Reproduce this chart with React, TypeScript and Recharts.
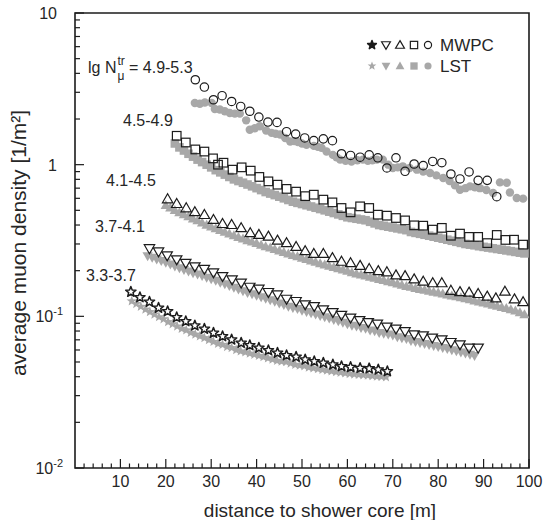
import React from 'react';
import { ScatterChart, Scatter, XAxis, YAxis, ReferenceArea } from 'recharts';

const INK = '#1c1c1c';
const GRAY = '#a8a8a8';
const TEXT = '#262626';

// lg N = 4.9-5.3 (circles)
const mwpcCircleX = [26.5, 28.5, 30.5, 32.4, 34.5, 36.5, 38.5, 40.5, 42.5, 44.5, 46.6, 48.6, 50.6, 52.6, 54.7, 56.7, 58.7, 60.7, 62.8, 64.8, 66.7, 68.7, 70.7, 72.7, 74.7, 76.7, 78.8, 80.8, 82.8, 84.8, 86.8, 88.8, 90.8, 92.9];
const mwpcCircleY = [3.63, 3.25, 2.68, 2.85, 2.61, 2.42, 2.25, 2.06, 1.91, 1.9, 1.65, 1.59, 1.5, 1.44, 1.48, 1.44, 1.18, 1.15, 1.12, 1.16, 1.11, 0.951, 1.11, 0.904, 1.01, 0.985, 1.05, 1.03, 0.868, 0.805, 0.895, 0.788, 0.788, 0.615];
const lstCircleX = [26.4, 27.5, 28.6, 30.1, 30.8, 31.9, 33.0, 34.1, 35.2, 36.3, 37.7, 38.5, 39.6, 40.7, 42.1, 43.3, 44.2, 45.2, 46.3, 47.4, 48.3, 49.1, 50.0, 51.0, 52.6, 53.5, 54.3, 55.4, 56.8, 57.6, 58.4, 59.6, 60.9, 62.2, 63.4, 64.5, 65.5, 66.5, 67.8, 69.0, 70.0, 71.1, 72.2, 73.7, 75.3, 76.7, 78.2, 79.6, 81.1, 82.5, 83.7, 84.8, 86.0, 87.0, 88.1, 89.2, 90.6, 92.1, 93.6, 95.1, 95.8, 97.3, 98.7];
const lstCircleY = [2.55, 2.52, 2.57, 2.55, 2.33, 2.31, 2.25, 2.19, 2.17, 2.17, 1.96, 1.7, 1.74, 1.79, 1.68, 1.62, 1.6, 1.58, 1.5, 1.42, 1.43, 1.41, 1.38, 1.35, 1.33, 1.31, 1.29, 1.22, 1.16, 1.12, 1.08, 1.06, 1.05, 1.07, 1.08, 1.06, 1.07, 1.08, 1.08, 1.0, 0.95, 0.96, 0.975, 0.95, 0.927, 0.9, 0.881, 0.85, 0.817, 0.78, 0.73, 0.684, 0.7, 0.719, 0.71, 0.7, 0.68, 0.65, 0.764, 0.76, 0.656, 0.603, 0.597];

// lg N = 4.5-4.9 (squares)
const mwpcSquareX = [22.4, 24.4, 26.5, 28.5, 30.4, 31.5, 32.7, 34.7, 36.7, 38.7, 40.6, 42.6, 44.6, 46.6, 48.7, 50.7, 52.6, 54.7, 56.7, 58.7, 60.7, 62.8, 64.8, 66.7, 68.7, 70.7, 72.7, 74.7, 76.7, 78.8, 80.8, 82.8, 84.8, 86.8, 88.8, 90.8, 92.9, 94.8, 96.7, 98.7];
const mwpcSquareY = [1.55, 1.4, 1.26, 1.22, 1.1, 1.0, 1.03, 0.927, 0.96, 0.913, 0.83, 0.776, 0.738, 0.692, 0.664, 0.62, 0.634, 0.588, 0.564, 0.518, 0.485, 0.531, 0.518, 0.468, 0.461, 0.445, 0.429, 0.398, 0.396, 0.373, 0.383, 0.34, 0.351, 0.334, 0.334, 0.304, 0.344, 0.319, 0.32, 0.297];
const lstSquareX = [22, 23, 24, 25, 26, 27, 28, 29, 30, 31, 32, 33, 34, 35, 36, 37, 38, 39, 40, 41, 42, 43, 44, 45, 46, 47, 48, 49, 50, 51, 52, 53, 54, 55, 56, 57, 58, 59, 60, 61, 62, 63, 64, 65, 66, 67, 68, 69, 70, 71, 72, 73, 74, 75, 76, 77, 78, 79, 80, 81, 82, 83, 84, 85, 86, 87, 88, 89, 90, 91, 92, 93, 94, 95, 96, 97, 98, 99];
const lstSquareY = [1.38, 1.3, 1.24, 1.18, 1.13, 1.08, 1.04, 1.0, 0.96, 0.92, 0.89, 0.86, 0.83, 0.8, 0.78, 0.76, 0.74, 0.72, 0.7, 0.68, 0.66, 0.645, 0.63, 0.615, 0.6, 0.585, 0.57, 0.56, 0.55, 0.54, 0.53, 0.52, 0.51, 0.5, 0.49, 0.48, 0.47, 0.46, 0.45, 0.445, 0.44, 0.435, 0.43, 0.42, 0.41, 0.4, 0.395, 0.39, 0.385, 0.38, 0.375, 0.37, 0.36, 0.355, 0.35, 0.345, 0.34, 0.335, 0.33, 0.325, 0.32, 0.315, 0.31, 0.305, 0.3, 0.297, 0.294, 0.29, 0.287, 0.284, 0.281, 0.278, 0.275, 0.272, 0.269, 0.266, 0.263, 0.26];

// lg N = 4.1-4.5 (triangles up)
const mwpcTriUpX = [20.4, 22.4, 24.5, 26.4, 28.5, 30.5, 32.5, 34.5, 36.6, 38.6, 40.5, 42.6, 44.6, 46.6, 48.7, 50.7, 52.6, 54.7, 56.7, 58.7, 60.7, 62.8, 64.8, 66.8, 68.7, 70.7, 72.7, 74.7, 76.7, 78.8, 80.8, 82.8, 84.8, 86.8, 88.8, 90.8, 92.7, 94.7, 96.8, 98.7];
const mwpcTriUpY = [0.594, 0.553, 0.518, 0.488, 0.468, 0.434, 0.408, 0.402, 0.383, 0.355, 0.346, 0.337, 0.317, 0.305, 0.288, 0.27, 0.259, 0.259, 0.243, 0.23, 0.225, 0.216, 0.206, 0.1995, 0.196, 0.187, 0.185, 0.176, 0.17, 0.166, 0.166, 0.148, 0.145, 0.144, 0.141, 0.1355, 0.132, 0.146, 0.13, 0.1245];
const lstTriUpX = [20, 21, 22, 23, 24, 25, 26, 27, 28, 29, 30, 31, 32, 33, 34, 35, 36, 37, 38, 39, 40, 41, 42, 43, 44, 45, 46, 47, 48, 49, 50, 51, 52, 53, 54, 55, 56, 57, 58, 59, 60, 61, 62, 63, 64, 65, 66, 67, 68, 69, 70, 71, 72, 73, 74, 75, 76, 77, 78, 79, 80, 81, 82, 83, 84, 85, 86, 87, 88, 89, 90, 91, 92, 93, 94, 95, 96, 97, 98, 99];
const lstTriUpY = [0.54, 0.52, 0.5, 0.485, 0.47, 0.455, 0.44, 0.428, 0.415, 0.4, 0.39, 0.38, 0.37, 0.36, 0.351, 0.342, 0.333, 0.325, 0.317, 0.31, 0.303, 0.296, 0.289, 0.283, 0.277, 0.271, 0.265, 0.259, 0.253, 0.248, 0.243, 0.238, 0.233, 0.228, 0.223, 0.219, 0.215, 0.211, 0.207, 0.203, 0.199, 0.195, 0.191, 0.188, 0.185, 0.182, 0.179, 0.176, 0.173, 0.17, 0.167, 0.164, 0.161, 0.158, 0.156, 0.153, 0.151, 0.149, 0.147, 0.145, 0.143, 0.141, 0.139, 0.137, 0.135, 0.133, 0.131, 0.129, 0.127, 0.125, 0.123, 0.121, 0.119, 0.117, 0.115, 0.113, 0.111, 0.109, 0.106, 0.103];

// lg N = 3.7-4.1 (triangles down)
const mwpcTriDownX = [16.4, 18.4, 20.3, 22.4, 24.4, 26.4, 28.5, 30.5, 32.5, 34.6, 36.6, 38.5, 40.5, 42.6, 44.6, 46.6, 48.7, 50.7, 52.7, 54.7, 56.8, 58.7, 60.7, 62.7, 64.6, 66.6, 68.7, 70.7, 72.7, 74.7, 76.7, 78.7, 80.8, 82.8, 84.8, 86.8, 88.8];
const mwpcTriDownY = [0.28, 0.267, 0.251, 0.2365, 0.224, 0.2127, 0.2047, 0.194, 0.1835, 0.1745, 0.166, 0.156, 0.1516, 0.144, 0.139, 0.13, 0.1256, 0.1195, 0.1164, 0.1107, 0.1062, 0.1018, 0.0976, 0.0941, 0.0913, 0.0891, 0.0851, 0.0826, 0.0796, 0.0757, 0.0746, 0.0721, 0.0702, 0.0674, 0.0651, 0.0619, 0.0619];
const lstTriDownX = [16, 17, 18, 19, 20, 21, 22, 23, 24, 25, 26, 27, 28, 29, 30, 31, 32, 33, 34, 35, 36, 37, 38, 39, 40, 41, 42, 43, 44, 45, 46, 47, 48, 49, 50, 51, 52, 53, 54, 55, 56, 57, 58, 59, 60, 61, 62, 63, 64, 65, 66, 67, 68, 69, 70, 71, 72, 73, 74, 75, 76, 77, 78, 79, 80, 81, 82, 83, 84, 85, 86, 87, 88];
const lstTriDownY = [0.25, 0.244, 0.238, 0.232, 0.226, 0.22, 0.214, 0.208, 0.203, 0.198, 0.193, 0.189, 0.185, 0.18, 0.176, 0.172, 0.167, 0.163, 0.159, 0.155, 0.151, 0.147, 0.143, 0.14, 0.137, 0.134, 0.131, 0.128, 0.125, 0.122, 0.119, 0.116, 0.114, 0.112, 0.109, 0.107, 0.105, 0.103, 0.101, 0.099, 0.097, 0.095, 0.093, 0.091, 0.089, 0.087, 0.086, 0.084, 0.083, 0.081, 0.08, 0.078, 0.077, 0.076, 0.075, 0.073, 0.072, 0.071, 0.069, 0.068, 0.067, 0.066, 0.065, 0.064, 0.063, 0.062, 0.061, 0.06, 0.059, 0.058, 0.057, 0.056, 0.055];

// lg N = 3.3-3.7 (stars)
const mwpcStarX = [12.3, 14.3, 16.4, 18.4, 20.4, 22.4, 24.4, 26.4, 28.5, 30.5, 32.5, 34.5, 36.6, 38.5, 40.5, 42.6, 44.6, 46.6, 48.7, 50.7, 52.7, 54.7, 56.8, 58.7, 60.7, 62.8, 64.8, 66.8, 68.8];
const mwpcStarY = [0.1448, 0.1334, 0.1245, 0.1136, 0.1079, 0.0985, 0.0927, 0.0869, 0.0826, 0.0777, 0.0738, 0.0702, 0.0668, 0.0644, 0.0619, 0.0597, 0.0574, 0.0553, 0.054, 0.0518, 0.0505, 0.0493, 0.048, 0.0468, 0.0462, 0.0456, 0.0453, 0.0445, 0.0434];
const lstStarX = [12.5, 13.5, 14.5, 15.5, 16.5, 17.5, 18.5, 19.5, 20.5, 21.5, 22.5, 23.5, 24.5, 25.5, 26.5, 27.5, 28.5, 29.5, 30.5, 31.5, 32.5, 33.5, 34.5, 35.5, 36.5, 37.5, 38.5, 39.5, 40.5, 41.5, 42.5, 43.5, 44.5, 45.5, 46.5, 47.5, 48.5, 49.5, 50.5, 51.5, 52.5, 53.5, 54.5, 55.5, 56.5, 57.5, 58.5, 59.5, 60.5, 61.5, 62.5, 63.5, 64.5, 65.5, 66.5, 67.5, 68.5];
const lstStarY = [0.126, 0.121, 0.116, 0.111, 0.107, 0.103, 0.099, 0.096, 0.092, 0.089, 0.086, 0.083, 0.081, 0.078, 0.076, 0.074, 0.072, 0.07, 0.068, 0.066, 0.065, 0.063, 0.062, 0.06, 0.059, 0.058, 0.057, 0.056, 0.055, 0.054, 0.053, 0.052, 0.051, 0.0505, 0.05, 0.049, 0.048, 0.0475, 0.047, 0.046, 0.0455, 0.045, 0.0445, 0.044, 0.0435, 0.043, 0.0426, 0.0422, 0.0418, 0.0415, 0.0412, 0.041, 0.0408, 0.0405, 0.0402, 0.04, 0.0398];

const xTicks = [2, 4, 6, 8, 10, 12, 14, 16, 18, 20, 22, 24, 26, 28, 30, 32, 34, 36, 38, 40, 42, 44, 46, 48, 50, 52, 54, 56, 58, 60, 62, 64, 66, 68, 70, 72, 74, 76, 78, 80, 82, 84, 86, 88, 90, 92, 94, 96, 98, 100];
const yTicks = [0.01, 0.02, 0.03, 0.04, 0.05, 0.06, 0.07, 0.08, 0.09, 0.1, 0.2, 0.3, 0.4, 0.5, 0.6, 0.7, 0.8, 0.9, 1, 2, 3, 4, 5, 6, 7, 8, 9, 10];

const rangeLabels = ['4.5-4.9', '4.1-4.5', '3.7-4.1', '3.3-3.7'];

const zip = (xs: number[], ys: number[]) => xs.map((x, i) => ({ x, y: ys[i] }));

const starPath = (cx: number, cy: number, ro: number, ri: number) => {
  let d = '';
  for (let k = 0; k < 10; k++) {
    const r = k % 2 ? ri : ro;
    const a = -Math.PI / 2 + (k * Math.PI) / 5;
    d += (k ? 'L' : 'M') + (cx + r * Math.cos(a)).toFixed(2) + ' ' + (cy + r * Math.sin(a)).toFixed(2);
  }
  return d + 'Z';
};

// marker shapes
const Mark = ({ kind, cx, cy, open, s = 1, solid = false }: any) => {
  const stroke = open ? INK : 'none';
  const fill = open ? 'none' : GRAY;
  const sw = 1.2;
  if (kind === 'circle') return <circle cx={cx} cy={cy} r={4.2 * s} fill={fill} stroke={stroke} strokeWidth={sw} />;
  if (kind === 'square') {
    const h = 4.3 * s;
    return <rect x={cx - h} y={cy - h} width={2 * h} height={2 * h} fill={fill} stroke={stroke} strokeWidth={sw} />;
  }
  if (kind === 'up') {
    const w = 5.2 * s;
    return <polygon points={`${cx},${cy - 5.2 * s} ${cx + w},${cy + 3.8 * s} ${cx - w},${cy + 3.8 * s}`} fill={fill} stroke={stroke} strokeWidth={sw} />;
  }
  if (kind === 'down') {
    const w = 5.2 * s;
    return <polygon points={`${cx - w},${cy - 3.8 * s} ${cx + w},${cy - 3.8 * s} ${cx},${cy + 5.2 * s}`} fill={fill} stroke={stroke} strokeWidth={sw} />;
  }
  return <path d={starPath(cx, cy, 5.4 * s, 2.3 * s)} fill={solid ? INK : fill} stroke={stroke} strokeWidth={open ? 1.5 : 0} strokeLinejoin="round" />;
};

const shapeOf = (kind: string, open: boolean) => (p: any) => <Mark kind={kind} cx={p.cx} cy={p.cy} open={open} />;

const XTick = ({ x, y, payload }: any) => {
  const v = payload.value;
  const major = v % 10 === 0;
  return (
    <g>
      <line x1={x} x2={x} y1={y} y2={y - (major ? 9 : 4.5)} stroke={INK} strokeWidth={1.2} />
      {major && (
        <text x={x} y={y + 19} textAnchor="middle" fontSize={16} fill={TEXT}>
          {v}
        </text>
      )}
    </g>
  );
};

const YTick = ({ x, y, payload }: any) => {
  const v = payload.value;
  const e = Math.log10(v);
  const major = Math.abs(e - Math.round(e)) < 1e-6;
  const n = Math.round(e);
  return (
    <g>
      <line x1={x} x2={x + (major ? 9 : 5)} y1={y} y2={y} stroke={INK} strokeWidth={1.2} />
      {major && (
        <text x={x - (n < 0 ? 12 : 18)} y={y + 6} textAnchor="end" fontSize={16} fill={TEXT}>
          {n === 0 ? '1' : '10'}
          {n < 0 && (
            <tspan dy={-7} fontSize={11}>
              {n}
            </tspan>
          )}
        </text>
      )}
    </g>
  );
};

const App: React.FC = () => {
  return (
    <div style={{ position: 'absolute', left: 0, top: 0, width: 545, height: 520, background: '#fff', fontFamily: '"Liberation Sans", Arial, sans-serif' }}>
      <ScatterChart width={545} height={520} margin={{ top: 13, right: 16, bottom: 12, left: 15 }}>
        <XAxis type="number" dataKey="x" domain={[0, 100]} ticks={xTicks} interval={0} tick={<XTick />} tickSize={0} tickMargin={0} tickLine={false} axisLine={false} height={40} allowDataOverflow />
        <YAxis type="number" dataKey="y" scale="log" domain={[0.01, 10]} ticks={yTicks} interval={0} tick={<YTick />} tickSize={0} tickMargin={0} tickLine={false} axisLine={false} width={60} allowDataOverflow />
        <Scatter data={zip(lstStarX, lstStarY)} shape={shapeOf('star', false)} isAnimationActive={false} />
        <Scatter data={zip(lstTriDownX, lstTriDownY)} shape={shapeOf('down', false)} isAnimationActive={false} />
        <Scatter data={zip(lstTriUpX, lstTriUpY)} shape={shapeOf('up', false)} isAnimationActive={false} />
        <Scatter data={zip(lstSquareX, lstSquareY)} shape={shapeOf('square', false)} isAnimationActive={false} />
        <Scatter data={zip(lstCircleX, lstCircleY)} shape={shapeOf('circle', false)} isAnimationActive={false} />
        <Scatter data={zip(mwpcStarX, mwpcStarY)} shape={shapeOf('star', true)} isAnimationActive={false} />
        <Scatter data={zip(mwpcTriDownX, mwpcTriDownY)} shape={shapeOf('down', true)} isAnimationActive={false} />
        <Scatter data={zip(mwpcTriUpX, mwpcTriUpY)} shape={shapeOf('up', true)} isAnimationActive={false} />
        <Scatter data={zip(mwpcSquareX, mwpcSquareY)} shape={shapeOf('square', true)} isAnimationActive={false} />
        <Scatter data={zip(mwpcCircleX, mwpcCircleY)} shape={shapeOf('circle', true)} isAnimationActive={false} />
        <ReferenceArea x1={0} x2={100} y1={0.01} y2={10} fill="none" stroke={INK} strokeWidth={1.6} ifOverflow="visible" />
      </ScatterChart>
      <svg width={545} height={520} style={{ position: 'absolute', left: 0, top: 0, pointerEvents: 'none' }}>
        <text x={88} y={73} fontSize={16} fill={TEXT}>lg N</text>
        <text x={117.5} y={65} fontSize={12} fill={TEXT}>tr</text>
        <text x={117.5} y={80} fontSize={12} fill={TEXT}>μ</text>
        <text x={129} y={73} fontSize={16} fill={TEXT}>= 4.9-5.3</text>
        <text x={123} y={126} fontSize={16} fill={TEXT}>{rangeLabels[0]}</text>
        <text x={106} y={186} fontSize={16} fill={TEXT}>{rangeLabels[1]}</text>
        <text x={95} y={232} fontSize={16} fill={TEXT}>{rangeLabels[2]}</text>
        <text x={86} y={281} fontSize={16} fill={TEXT}>{rangeLabels[3]}</text>

        {['star', 'down', 'up', 'square', 'circle'].map((k, i) => (
          <g key={k}>
            <Mark kind={k} cx={372 + i * 14} cy={45} open solid={k === 'star'} s={0.85} />
            <Mark kind={k} cx={372 + i * 14} cy={66} open={false} s={0.85} />
          </g>
        ))}
        <text x={440} y={51} fontSize={17} fill={TEXT}>MWPC</text>
        <text x={440} y={72} fontSize={17} fill={TEXT}>LST</text>

        <text x={320} y={517} fontSize={19} textAnchor="middle" fill={TEXT}>distance to shower core [m]</text>
        <text transform="translate(26,243) rotate(-90)" fontSize={21} textAnchor="middle" fill={TEXT}>average muon density [1/m²]</text>
      </svg>
    </div>
  );
};

export default App;
